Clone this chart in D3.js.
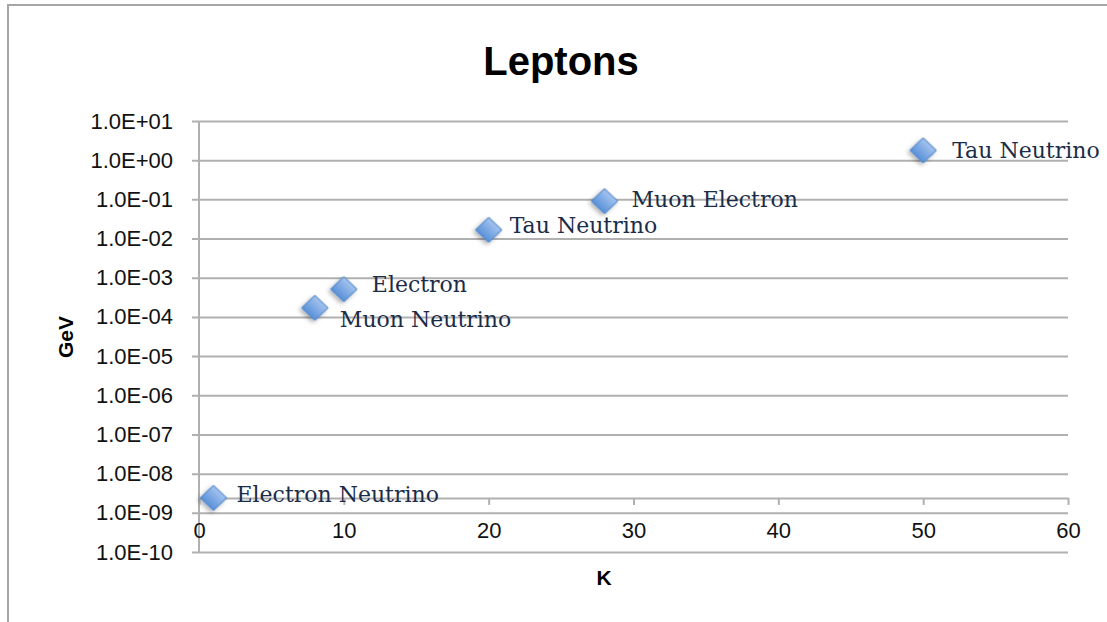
<!DOCTYPE html>
<html>
<head>
<meta charset="utf-8">
<script src="https://cdn.jsdelivr.net/npm/d3@7"></script>
<style>
  body { margin: 0; background: #fff; }
  svg { display: block; }
</style>
</head>
<body>
<div id="chart"></div>
<script>
// data
const particles = ["Electron Neutrino", "Muon Neutrino", "Electron", "Tau Neutrino", "Muon Electron", "Tau Neutrino"];
const kValues = [1, 8, 10, 20, 28, 50];
const gevValues = [2.4e-9, 1.7e-4, 5.1e-4, 1.66e-2, 9.0e-2, 1.78];
const yExponents = [-10, -9, -8, -7, -6, -5, -4, -3, -2, -1, 0, 1];
const xTicks = [0, 10, 20, 30, 40, 50, 60];
const xCross = 2.4e-9; // where the K axis crosses the GeV axis

// label nudges (dx, dy) from the marker centre, hand placed like in the original
const labelNudge = [[23, 4], [25, 19], [28, 3], [21, 3], [27, 6], [29, 8]];

const w = 1107, h = 622;
const plotLeft = 199, plotRight = 1068, plotTop = 121, plotBottom = 552;

const svg = d3.select("#chart").append("svg")
    .attr("width", w)
    .attr("height", h);

// outer chart border (runs off the right and bottom edges)
svg.append("rect")
    .attr("x", 8).attr("y", 5)
    .attr("width", w + 20).attr("height", h + 20)
    .attr("fill", "none")
    .attr("stroke", "#a6a6a6")
    .attr("stroke-width", 2);

const defs = svg.append("defs");
const grad = defs.append("linearGradient")
    .attr("id", "dia").attr("x1", 0).attr("y1", 0).attr("x2", 0).attr("y2", 1);
grad.append("stop").attr("offset", "0%").attr("stop-color", "#a4c4ef");
grad.append("stop").attr("offset", "100%").attr("stop-color", "#5a90d8");

const shadow = defs.append("filter").attr("id", "shadow")
    .attr("x", "-50%").attr("y", "-50%").attr("width", "200%").attr("height", "200%");
shadow.append("feDropShadow")
    .attr("dx", 0).attr("dy", 3).attr("stdDeviation", 2)
    .attr("flood-color", "#000").attr("flood-opacity", 0.3);

let xScale = d3.scaleLinear().domain([0, 60]).range([plotLeft, plotRight]);
let yScale = d3.scaleLog().domain([1e-10, 10]).range([plotBottom, plotTop]);

const fmt = v => {
    const e = Math.round(Math.log10(v));
    const s = e < 0 ? "-" : "+";
    return "1.0E" + s + String(Math.abs(e)).padStart(2, "0");
};

// y axis with gridlines
let yAxis = d3.axisLeft(yScale)
    .tickValues(yExponents.map(e => Math.pow(10, e)))
    .tickFormat(fmt)
    .tickSize(-(plotRight - plotLeft))
    .tickPadding(26);

const gy = svg.append("g")
    .attr("transform", "translate(" + plotLeft + ",0)")
    .call(yAxis);
gy.select(".domain").remove();
gy.selectAll(".tick line")
    .attr("x1", -7)
    .attr("stroke", "#b0b0b0")
    .attr("stroke-width", 2);
gy.selectAll(".tick text")
    .attr("x", -26)
    .style("font-family", "'Liberation Sans', Arial, sans-serif")
    .style("font-size", "22px")
    .attr("fill", "#111");

svg.append("line")
    .attr("x1", plotLeft).attr("x2", plotLeft)
    .attr("y1", plotTop).attr("y2", plotBottom)
    .attr("stroke", "#b0b0b0")
    .attr("stroke-width", 2);

// x axis crossing at xCross
const axisY = yScale(xCross);
let xAxis = d3.axisBottom(xScale)
    .tickValues(xTicks)
    .tickSizeInner(7)
    .tickSizeOuter(0)
    .tickPadding(17);

const gx = svg.append("g")
    .attr("transform", "translate(0," + axisY + ")")
    .call(xAxis);
gx.select(".domain").attr("stroke", "#b0b0b0").attr("stroke-width", 2);
gx.selectAll(".tick line").attr("stroke", "#b0b0b0").attr("stroke-width", 2);
gx.selectAll(".tick text")
    .style("font-family", "'Liberation Sans', Arial, sans-serif")
    .style("font-size", "22px")
    .attr("fill", "#111");

// title and axis titles
svg.append("text")
    .attr("x", 561).attr("y", 75)
    .attr("text-anchor", "middle")
    .style("font-family", "'Liberation Sans', Arial, sans-serif")
    .style("font-weight", "bold")
    .style("font-size", "40px")
    .text("Leptons");

svg.append("text")
    .attr("transform", "translate(73,337) rotate(-90)")
    .attr("text-anchor", "middle")
    .style("font-family", "'Liberation Sans', Arial, sans-serif")
    .style("font-weight", "bold")
    .style("font-size", "21px")
    .text("GeV");

svg.append("text")
    .attr("x", 604).attr("y", 585)
    .attr("text-anchor", "middle")
    .style("font-family", "'Liberation Sans', Arial, sans-serif")
    .style("font-weight", "bold")
    .style("font-size", "21px")
    .text("K");

// markers
const points = particles.map((p, i) => ({ name: p, k: kValues[i], gev: gevValues[i], nudge: labelNudge[i] }));
const diamond = d3.symbol().type(d3.symbolSquare).size(345);

svg.append("g").selectAll("path")
    .data(points)
    .enter()
    .append("path")
    .attr("d", diamond)
    .attr("transform", d => "translate(" + xScale(d.k) + "," + yScale(d.gev) + ") scale(1,0.95) rotate(45)")
    .attr("fill", "url(#dia)")
    .attr("stroke", "#4f84c9")
    .attr("stroke-width", 1)
    .attr("filter", "url(#shadow)");

// data labels
svg.append("g").selectAll("text")
    .data(points)
    .enter()
    .append("text")
    .attr("x", d => xScale(d.k) + d.nudge[0])
    .attr("y", d => yScale(d.gev) + d.nudge[1])
    .style("font-family", "'DejaVu Serif', serif")
    .style("font-size", "22px")
    .attr("fill", "#1b2c48")
    .text(d => d.name);
</script>
</body>
</html>
